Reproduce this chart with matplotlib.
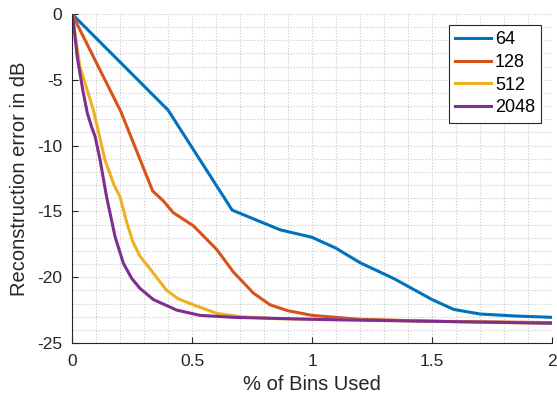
import matplotlib.pyplot as plt
from matplotlib.ticker import MultipleLocator, FormatStrFormatter

plt.rcParams['font.family'] = ['Liberation Sans', 'DejaVu Sans']

# values
x64 = [0, 0.40, 0.667, 0.867, 1.0, 1.10, 1.20, 1.34, 1.50, 1.59, 1.70, 1.85, 2.0]
y64 = [0, -7.3, -14.9, -16.4, -16.97, -17.8, -18.9, -20.1, -21.7, -22.45, -22.8, -22.95, -23.05]

x128 = [0, 0.203, 0.336, 0.38, 0.422, 0.506, 0.603, 0.672, 0.755, 0.825, 0.9, 1.0, 1.2, 1.5, 2.0]
y128 = [0, -7.4, -13.45, -14.2, -15.1, -16.1, -17.9, -19.6, -21.2, -22.1, -22.55, -22.9, -23.2, -23.35, -23.45]

x512 = [0, 0.033, 0.089, 0.1375, 0.175, 0.2, 0.225, 0.253, 0.283, 0.339, 0.394, 0.443, 0.506,
        0.603, 0.7, 0.85, 1.0, 1.5, 2.0]
y512 = [0, -4.0, -7.3, -11.1, -13.0, -13.9, -15.65, -17.3, -18.4, -19.7, -21.0, -21.65, -22.1,
        -22.75, -23.0, -23.15, -23.2, -23.35, -23.5]

x2048 = [0, 0.005, 0.022, 0.045, 0.064, 0.082, 0.096, 0.117, 0.144, 0.179, 0.214, 0.249, 0.283,
         0.339, 0.436, 0.533, 0.672, 1.0, 1.5, 2.0]
y2048 = [0, -0.5, -3.3, -5.8, -7.55, -8.6, -9.3, -11.1, -13.9, -16.9, -18.95, -20.1, -20.85,
         -21.7, -22.5, -22.9, -23.05, -23.2, -23.35, -23.5]

series = [('64', x64, y64, '#0072BD'),
          ('128', x128, y128, '#D95319'),
          ('512', x512, y512, '#EDB120'),
          ('2048', x2048, y2048, '#7E2F8E')]

fig = plt.figure(figsize=(5.57, 3.98), dpi=100)
ax = fig.add_axes([0.1293, 0.1382, 0.862, 0.8266])

for name, xs, ys, col in series:
    ax.plot(xs, ys, color=col, linewidth=2.2, label=name)

ax.set_xlim(0, 2)
ax.set_ylim(-25, 0)
ax.xaxis.set_major_locator(MultipleLocator(0.5))
ax.xaxis.set_minor_locator(MultipleLocator(0.1))
ax.yaxis.set_major_locator(MultipleLocator(5))
ax.yaxis.set_minor_locator(MultipleLocator(1))
ax.xaxis.set_major_formatter(FormatStrFormatter('%g'))
ax.yaxis.set_major_formatter(FormatStrFormatter('%g'))
ax.grid(which='both', linestyle=':', color='#c8c8c8', linewidth=0.8)
ax.set_axisbelow(True)

for s in ['top', 'right']:
    ax.spines[s].set_visible(False)
for s in ['left', 'bottom']:
    ax.spines[s].set_color('#262626')
ax.tick_params(which='major', direction='in', length=4, labelsize=12.5, colors='#262626')
ax.tick_params(axis='x', which='major', pad=8)
ax.tick_params(axis='y', which='major', pad=7)
ax.tick_params(which='minor', length=0)

ax.set_xlabel('% of Bins Used', fontsize=14.5, color='#262626', labelpad=4)
ax.set_ylabel('Reconstruction error in dB', fontsize=14.5, color='#262626', labelpad=6)

leg = ax.legend(loc='upper right', fontsize=13, fancybox=False, framealpha=1,
                edgecolor='#262626', handlelength=2.0, handletextpad=0.2,
                borderpad=0.35, labelspacing=0.32, borderaxespad=0.6)
leg.get_frame().set_linewidth(0.8)

plt.savefig('out.png', dpi=100)
